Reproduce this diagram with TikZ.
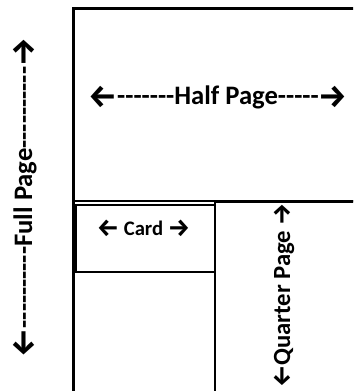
\documentclass[tikz,border=0pt]{standalone}
\usepackage{fontspec}
\usepackage{graphicx}
\newfontfamily\calfont{Carlito}
\newfontfamily\arrfont{Fira Sans}
\newcommand\la{\raisebox{-0.08em}{\scalebox{1.2}{\arrfont\bfseries ←}}}
\newcommand\ra{\raisebox{-0.08em}{\scalebox{1.2}{\arrfont\bfseries →}}}
\newcommand\qla{{\arrfont ←}}
\newcommand\qra{{\arrfont →}}
\begin{document}
\begin{tikzpicture}[x=0.75pt,y=-0.75pt,
  thickline/.style={line width=2.25pt},
  thinline/.style={line width=1.5pt},
  lbl/.style={inner sep=0pt, anchor=base, font=\calfont\bfseries},
]
\useasboundingbox (0,0) rectangle (353,391);
\clip (0,0) rectangle (353,391);
% frame of the full page
\draw[thickline] (73.5,395) -- (73.5,8.5) -- (360,8.5);
% bottom of half page
\draw[thinline] (73.5,200.5) -- (360,200.5);
% quarter page box
\draw[thickline] (360,201) -- (215,201);
\draw[thinline] (215,201) -- (215,395);
% card box
\draw[thinline] (76,205) rectangle (215,272);
% labels
\node[lbl, rotate=90] (full) at (32,197.5) {\fontsize{20}{24}\selectfont \la----------Full Page----------\ra};
\node[lbl] (half) at (218,105) {\fontsize{20}{24}\selectfont \la-------Half Page-----\ra};
\node[lbl] (card) at (143.5,235) {\fontsize{15.5}{18}\selectfont \la{} Card \ra};
\node[lbl, rotate=90] (quarter) at (290,295.5) {\fontsize{18.5}{22}\selectfont \qla Quarter Page \qra};
\end{tikzpicture}
\end{document}
